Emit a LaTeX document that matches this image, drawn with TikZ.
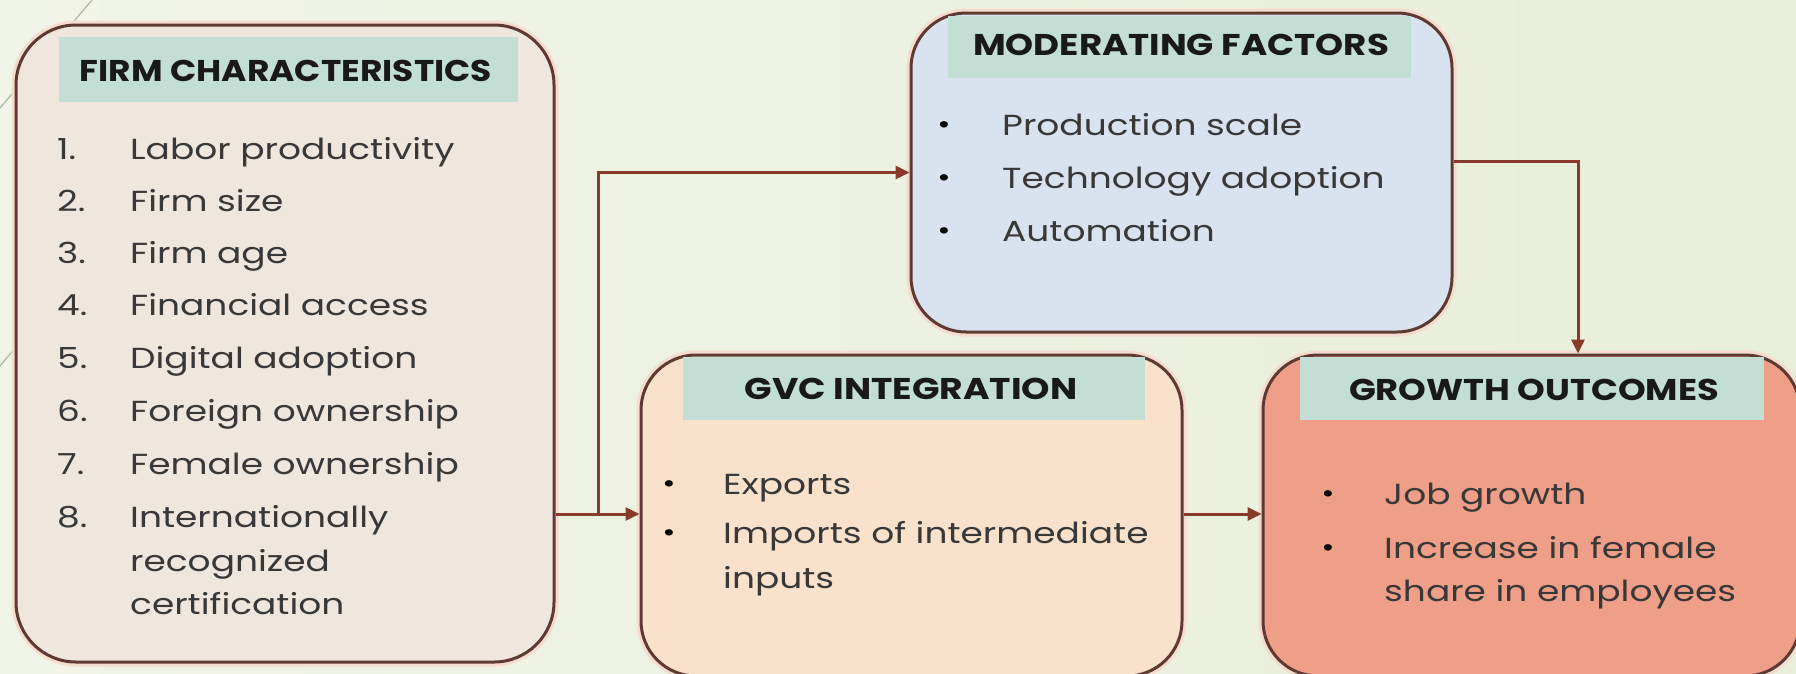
\documentclass[tikz,border=0pt]{standalone}
\usepackage{fontspec}
\setmainfont{Poppins}[FakeStretch=1.24]
\usepackage{graphicx}
\usetikzlibrary{arrows.meta}
\definecolor{bgL}{HTML}{F1F4E8}
\definecolor{bgM}{HTML}{FCFCF8}
\definecolor{bgR}{HTML}{E8EFD8}
\definecolor{edge}{HTML}{5E3A32}
\definecolor{glow}{HTML}{F6DCCF}
\definecolor{arr}{HTML}{8A3A2A}
\definecolor{head}{HTML}{C3DED4}
\definecolor{firmfill}{HTML}{EFE7DD}
\definecolor{modfill}{HTML}{D9E3EF}
\definecolor{gvcfill}{HTML}{F9E1CB}
\definecolor{grofill}{HTML}{EF9F87}
\definecolor{txt}{HTML}{383838}
\definecolor{deco}{HTML}{A9B99A}
\tikzset{
  panel/.style={draw=edge, line width=3pt, inner sep=0pt, rounded corners=55pt,
    preaction={draw=glow, line width=9pt}},
  band/.style={fill=head, inner sep=0pt},
  headtxt/.style={inner sep=0pt, font=\fontsize{30}{34}\selectfont\bfseries, text=black!90},
  body/.style={inner sep=0pt, anchor=west, font=\fontsize{29}{34}\selectfont, text=txt,
    text height=21pt, text depth=7pt},
  bul/.style={inner sep=0pt, font=\fontsize{26}{32}\selectfont, text=black},
  conn/.style={draw=arr, line width=3pt},
  tip/.style={-{Triangle[length=14pt,width=13pt]}},
}
\begin{document}
\begin{tikzpicture}[x=1pt,y=-1pt]
\useasboundingbox (0,0) rectangle (1796,673);
\shade[left color=bgL, middle color=bgM, right color=bgR] (0,0) rectangle (1796,673);
\draw[deco, line width=1.2pt] (92,0) -- (0,108);
\draw[deco, line width=1.2pt] (0,366) -- (30,330);
% panels
\node[panel, fill=firmfill, minimum width=538, minimum height=637, rounded corners=60pt] (firm) at (285,343.5) {};
\node[panel, fill=modfill, minimum width=541, minimum height=319] (mod) at (1181.5,172.5) {};
\node[panel, fill=gvcfill, minimum width=541, minimum height=321] (gvc) at (911.5,515.5) {};
\node[panel, fill=grofill, minimum width=537, minimum height=321] (gro) at (1531.5,515.5) {};
% header bands
\node[band, minimum width=459, minimum height=65] (firmh) at (288.5,69.5) {};
\node[band, minimum width=463, minimum height=62] (modh) at (1179.5,47) {};
\node[band, minimum width=462, minimum height=63] (gvch) at (914,388.5) {};
\node[band, minimum width=464, minimum height=63] (groh) at (1532,388.5) {};
% header texts
\node[headtxt] (firmt) at (286,71) {\resizebox{412pt}{\height}{FIRM CHARACTERISTICS}};
\node[headtxt] (modt) at (1181,45) {\resizebox{416pt}{\height}{MODERATING FACTORS}};
\node[headtxt] (gvct) at (911,389) {\resizebox{333pt}{\height}{GVC INTEGRATION}};
\node[headtxt] (grot) at (1534,390) {\resizebox{370pt}{\height}{GROWTH OUTCOMES}};
% firm list
\foreach \n/\t/\y [count=\i] in {1./Labor productivity/152, 2./Firm size/204, 3./Firm age/256,
  4./Financial access/308, 5./Digital adoption/361, 6./Foreign ownership/414,
  7./Female ownership/467, 8./Internationally/520}{
  \node[body] (fn\i) at (57,\y) {\n};
  \node[body] (ft\i) at (130,\y) {\t};
}
\node[body] (ft9) at (130,564) {recognized};
\node[body] (ft10) at (130,607) {certification};
% moderating list
\foreach \t/\y [count=\i] in {Production scale/128, Technology adoption/181, Automation/234}{
  \node[bul] (mb\i) at (944,\y) {\textbullet};
  \node[body] (mt\i) at (1002,\y) {\t};
}
% gvc list
\node[bul] (gb1) at (669,487) {\textbullet};
\node[body] (gt1) at (723,487) {Exports};
\node[bul] (gb2) at (669,536) {\textbullet};
\node[body] (gt2) at (723,536) {Imports of intermediate};
\node[body] (gt3) at (723,581) {inputs};
% growth list
\node[bul] (rb1) at (1328,497) {\textbullet};
\node[body] (rt1) at (1384,497) {Job growth};
\node[bul] (rb2) at (1328,551) {\textbullet};
\node[body] (rt2) at (1384,551) {Increase in female};
\node[body] (rt3) at (1384,594) {share in employees};
% connectors
\coordinate (j) at (598,514);
\coordinate (k) at (1578,161);
\draw[conn] (firm.east |- j) -- (j);
\draw[conn, tip] (j) -- (gvc.west |- j);
\draw[conn, tip] (j) |- (mod.west);
\draw[conn, tip] (gvc.east |- j) -- (gro.west |- j);
\draw[conn, tip] (mod.east |- k) -| (gro.north -| k);
\end{tikzpicture}
\end{document}
